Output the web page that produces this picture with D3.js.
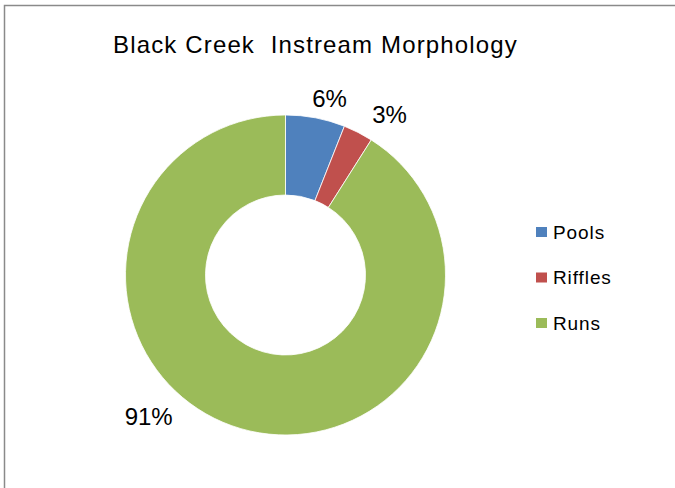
<!DOCTYPE html>
<html>
<head>
<meta charset="utf-8">
<script src="https://cdn.jsdelivr.net/npm/d3@7"></script>
<style>
  html, body { margin: 0; padding: 0; background: #fff; }
  svg { display: block; font-family: "Liberation Sans", Arial, sans-serif; }
</style>
</head>
<body>
<svg id="chart" width="675" height="488"></svg>
<script>
// Share of stream length by morphology type
const categories = ["Pools", "Riffles", "Runs"];
const shares = [6, 3, 91];
const pctLabels = ["6%", "3%", "91%"];
const chartTitle = "Black Creek  Instream Morphology";

const colors = d3.scaleOrdinal()
  .domain(categories)
  .range(["#4F81BD", "#C0504D", "#9BBB59"]);

const svg = d3.select("#chart");

// chart frame (right and bottom edges fall outside the viewport)
svg.append("rect")
  .attr("x", 4.5).attr("y", 5.5)
  .attr("width", 700).attr("height", 500)
  .attr("fill", "#fff")
  .attr("stroke", "#8a8a8a")
  .attr("stroke-width", 1.5);

svg.append("text")
  .attr("x", 113).attr("y", 53)
  .attr("font-size", 24)
  .attr("letter-spacing", 1.15)
  .attr("fill", "#000")
  .style("white-space", "pre")
  .text(chartTitle);

const cx = 285.5, cy = 275, outerR = 160, innerR = 80;

const pie = d3.pie().sort(null).value(d => d.value);
const arcs = pie(categories.map((c, i) => ({ name: c, value: shares[i] })));
const arc = d3.arc().innerRadius(innerR).outerRadius(outerR);

const g = svg.append("g").attr("transform", `translate(${cx},${cy})`);

g.selectAll("path.slice")
  .data(arcs)
  .join("path")
  .attr("class", "slice")
  .attr("d", arc)
  .attr("fill", d => colors(d.data.name))
  .attr("stroke", "#fff")
  .attr("stroke-width", 0.8);

// data label placement around the ring: angle (deg) and distance from centre
const labelPlace = [
  { angle: 14, r: 182 },
  { angle: 33, r: 191 },
  { angle: 224, r: 197 }
];

g.selectAll("text.pct")
  .data(arcs)
  .join("text")
  .attr("class", "pct")
  .attr("transform", (d, i) => {
    const p = d3.pointRadial(labelPlace[i].angle * Math.PI / 180, labelPlace[i].r);
    return `translate(${p[0]},${p[1]})`;
  })
  .attr("text-anchor", "middle")
  .attr("dy", "0.36em")
  .attr("font-size", 24)
  .attr("fill", "#000")
  .text((d, i) => pctLabels[i]);

// legend
const legend = svg.append("g").attr("transform", "translate(536,227)");
const item = legend.selectAll("g.item")
  .data(categories)
  .join("g")
  .attr("class", "item")
  .attr("transform", (d, i) => `translate(0,${i * 45.5})`);

item.append("rect")
  .attr("width", 11).attr("height", 10)
  .attr("fill", d => colors(d));

item.append("text")
  .attr("x", 17).attr("y", 11.5)
  .attr("font-size", 19)
  .attr("letter-spacing", 0.9)
  .attr("fill", "#000")
  .text(d => d);
</script>
</body>
</html>
